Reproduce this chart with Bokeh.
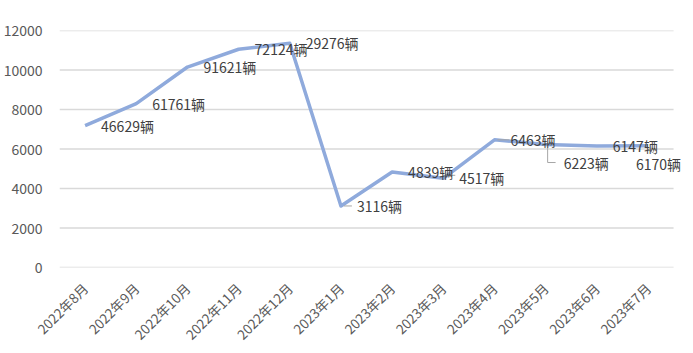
from bokeh.plotting import figure
from bokeh.models import Range1d, FixedTicker, ColumnDataSource, LabelSet
from bokeh.core.properties import value
from bokeh.embed import file_html
from bokeh.resources import INLINE
import math

# ---- data ----
months = ["2022年8月", "2022年9月", "2022年10月", "2022年11月", "2022年12月",
          "2023年1月", "2023年2月", "2023年3月", "2023年4月", "2023年5月",
          "2023年6月", "2023年7月"]
values = [7180, 8300, 10150, 11050, 11350, 3116, 4839, 4517, 6463, 6223, 6147, 6170]
labels = ["46629辆", "61761辆", "91621辆", "72124辆", "29276辆", "3116辆",
          "4839辆", "4517辆", "6463辆", "6223辆", "6147辆", "6170辆"]
y_ticks = [0, 2000, 4000, 6000, 8000, 10000, 12000]

FONT = "Noto Sans CJK SC"
W, H = 693, 353
LEFT, TOP, BOTTOM = 57, 30, 85
PLOT_W = 616  # width of the gridded area
n = len(months)
x_end = n * (W - LEFT) / PLOT_W

xs = [i + 0.5 for i in range(n)]

p = figure(width=W, height=H, output_backend="svg", toolbar_location=None,
           x_range=Range1d(0, x_end), y_range=Range1d(0, 12000),
           min_border_left=LEFT, min_border_right=0,
           min_border_top=TOP, min_border_bottom=BOTTOM)
p.outline_line_color = None
p.background_fill_color = "white"
p.border_fill_color = "white"

# axes
p.xaxis.ticker = FixedTicker(ticks=xs)
p.xaxis.major_label_overrides = {x: m for x, m in zip(xs, months)}
p.xaxis.major_label_orientation = math.pi / 4
p.xaxis.major_tick_line_color = None
p.xaxis.minor_tick_line_color = None
p.xaxis.axis_line_color = None
p.xaxis.major_label_text_font = FONT
p.xaxis.major_label_text_font_size = "13.5px"
p.xaxis.major_label_text_color = "#595959"
p.xaxis.major_label_standoff = 12

p.yaxis.ticker = FixedTicker(ticks=y_ticks)
p.yaxis.major_tick_line_color = None
p.yaxis.minor_tick_line_color = None
p.yaxis.axis_line_color = None
p.yaxis.major_label_text_font = FONT
p.yaxis.major_label_text_font_size = "14px"
p.yaxis.major_label_text_color = "#595959"
p.yaxis.major_label_standoff = 11

p.xgrid.grid_line_color = None
p.ygrid.grid_line_color = None

# horizontal gridlines over the category span only
p.segment(x0=[0] * len(y_ticks), y0=y_ticks, x1=[n] * len(y_ticks), y1=y_ticks,
          line_color="#d9d9d9", line_width=1.5)

# line
p.line(xs, values, line_color="#8faadc", line_width=3.5, line_join="round")

# pixel -> data conversions
px_x = n / PLOT_W
px_y = 12000 / (H - TOP - BOTTOM)

# label offsets (pixels, y positive = up for LabelSet)
dx = [16] * n
dy = [0] * n
dx[9], dy[9] = 18, -18    # 6223
dx[11], dy[11] = -12, -18  # 6170

src = ColumnDataSource(dict(x=xs, y=values, t=labels, dx=dx, dy=dy))
p.add_layout(LabelSet(x="x", y="y", text="t", x_offset="dx", y_offset="dy", source=src,
                      text_font=value(FONT), text_font_size="14px", text_color="#404040",
                      text_align="left", text_baseline="middle"))

# leader lines
lead = "#a6a6a6"
def seg(i, ax, ay, bx, by):
    x0 = xs[i] + ax * px_x
    y0 = values[i] - ay * px_y
    x1 = xs[i] + bx * px_x
    y1 = values[i] - by * px_y
    return x0, y0, x1, y1

segs = [seg(5, 3, 0, 11, 0),
        seg(8, 3, 0, 15, 0),
        seg(7, 6, -3, 12, -3),
        seg(9, 2, 3, 2, 18), seg(9, 2, 18, 10, 18),
        seg(11, 0, 4, 8, 9)]
p.segment(x0=[s[0] for s in segs], y0=[s[1] for s in segs],
          x1=[s[2] for s in segs], y1=[s[3] for s in segs],
          line_color=lead, line_width=1)

open("out.html", "w").write(file_html(p, INLINE))
